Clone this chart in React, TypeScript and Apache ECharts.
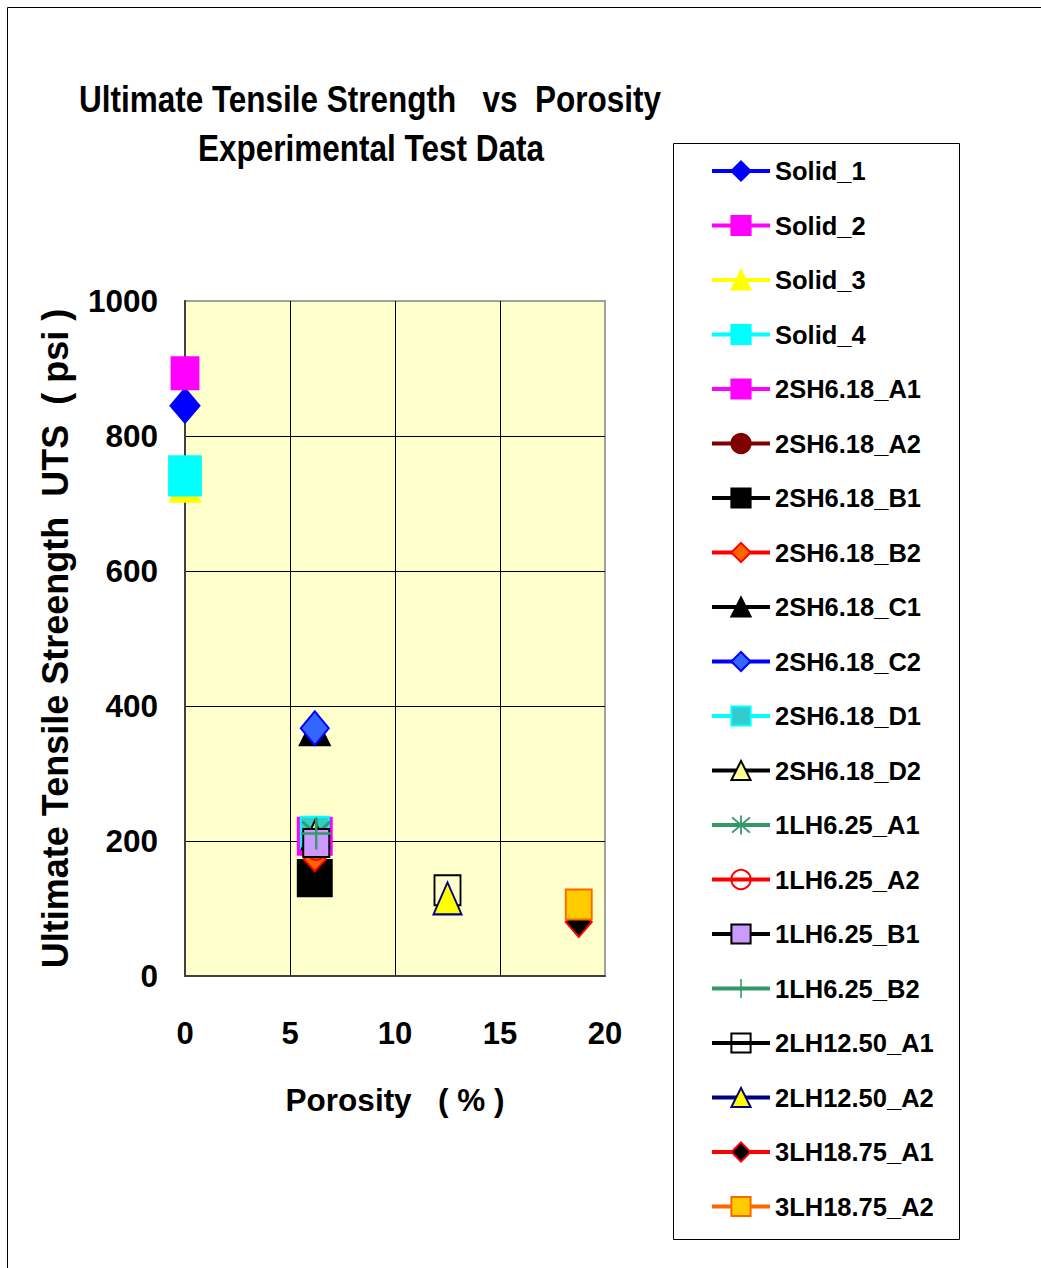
import React, { useEffect, useRef } from "react";
import * as echarts from "echarts";

const seriesNames = [
  "Solid_1", "Solid_2", "Solid_3", "Solid_4",
  "2SH6.18_A1", "2SH6.18_A2", "2SH6.18_B1", "2SH6.18_B2",
  "2SH6.18_C1", "2SH6.18_C2", "2SH6.18_D1", "2SH6.18_D2",
  "1LH6.25_A1", "1LH6.25_A2", "1LH6.25_B1", "1LH6.25_B2",
  "2LH12.50_A1", "2LH12.50_A2", "3LH18.75_A1", "3LH18.75_A2",
];
const porosityPct = [
  0, 0, 0, 0,
  6.18, 6.18, 6.18, 6.18,
  6.18, 6.18, 6.18, 6.18,
  6.25, 6.25, 6.25, 6.25,
  12.5, 12.5, 18.75, 18.75,
];
const utsPsi = [
  845, 893, 728, 741,
  207, 185, 145, 173,
  364, 367, 212, 209,
  210, 190, 197, 211,
  127, 115, 80, 106,
];
const xTicks = [0, 5, 10, 15, 20];
const yTicks = [0, 200, 400, 600, 800, 1000];

const ASTERISK =
  "path://M9.2,0 L10.8,0 L10.8,20 L9.2,20 Z M1.4,2.6 L2.6,1.4 L18.6,17.4 L17.4,18.6 Z M17.4,1.4 L18.6,2.6 L2.6,18.6 L1.4,17.4 Z";
const PLUS = "path://M9.2,0 L10.8,0 L10.8,20 L9.2,20 Z M0,9.2 L20,9.2 L20,10.8 L0,10.8 Z";

// marker styles: symbol, fill, border/line colour, plot size
const markerStyles: { symbol: string; fill: string; stroke: string; size: number[] }[] = [
  { symbol: "diamond", fill: "#0000FF", stroke: "#0000FF", size: [29, 34] },
  { symbol: "rect", fill: "#FF00FF", stroke: "#FF00FF", size: [27, 32] },
  { symbol: "triangle", fill: "#FFFF00", stroke: "#FFFF00", size: [30, 34] },
  { symbol: "rect", fill: "#00FFFF", stroke: "#00FFFF", size: [32, 39] },
  { symbol: "rect", fill: "#FF00FF", stroke: "#FF00FF", size: [34, 37] },
  { symbol: "circle", fill: "#800000", stroke: "#800000", size: [24, 26] },
  { symbol: "rect", fill: "#000000", stroke: "#000000", size: [34, 36] },
  { symbol: "diamond", fill: "#FF6600", stroke: "#FF0000", size: [22, 24] },
  { symbol: "triangle", fill: "#000000", stroke: "#000000", size: [30, 30] },
  { symbol: "diamond", fill: "#3366FF", stroke: "#0000FF", size: [28, 34] },
  { symbol: "rect", fill: "#33CCCC", stroke: "#00FFFF", size: [28, 32] },
  { symbol: "triangle", fill: "#FFFF99", stroke: "#000000", size: [26, 28] },
  { symbol: ASTERISK, fill: "#339966", stroke: "#339966", size: [30, 32] },
  { symbol: "circle", fill: "transparent", stroke: "#FF0000", size: [22, 24] },
  { symbol: "rect", fill: "#CC99FF", stroke: "#000000", size: [26, 28] },
  { symbol: PLUS, fill: "#339966", stroke: "#339966", size: [30, 32] },
  { symbol: "rect", fill: "transparent", stroke: "#000000", size: [26, 30] },
  { symbol: "triangle", fill: "#FFFF00", stroke: "#000080", size: [28, 32] },
  { symbol: "diamond", fill: "#000000", stroke: "#FF0000", size: [26, 30] },
  { symbol: "rect", fill: "#FFCC00", stroke: "#FF6600", size: [26, 30] },
];

const FONT = "'Liberation Sans', Arial, sans-serif";

export default function App() {
  const ref = useRef<HTMLDivElement>(null);
  useEffect(() => {
    document.body.style.margin = "0";
    const chart = echarts.init(ref.current!, null, { renderer: "svg" });
    const series = seriesNames.map((name, i) => {
      const m = markerStyles[i];
      const isPath = m.symbol.startsWith("path://");
      return {
        name,
        type: "line",
        data: [[porosityPct[i], utsPsi[i]]],
        symbol: m.symbol,
        symbolSize: m.size,
        showSymbol: true,
        lineStyle: { color: m.stroke, width: 4 },
        itemStyle: {
          color: m.fill,
          borderColor: m.stroke,
          borderWidth: isPath ? 0 : 2,
        },
        emphasis: { disabled: true },
      };
    });
    chart.setOption({
      animation: false,
      backgroundColor: "#FFFFFF",
      graphic: [
        {
          type: "rect",
          shape: { x: 7.5, y: 7.5, width: 1200, height: 1400 },
          style: { fill: "none", stroke: "#000000", lineWidth: 1 },
          silent: true,
        },
        {
          type: "rect",
          shape: { x: 673.5, y: 143.5, width: 286, height: 1096 },
          style: { fill: "#FFFFFF", stroke: "#000000", lineWidth: 1 },
          z: -1,
          silent: true,
        },
        {
          type: "text",
          x: 370,
          y: 99,
          scaleY: 1.2,
          style: {
            text: "Ultimate Tensile Strength   vs  Porosity",
            font: `bold 31.5px ${FONT}`,
            fill: "#000000",
            align: "center",
            verticalAlign: "middle",
          },
        },
        {
          type: "text",
          x: 371,
          y: 148,
          scaleY: 1.2,
          style: {
            text: "Experimental Test Data",
            font: `bold 31.5px ${FONT}`,
            fill: "#000000",
            align: "center",
            verticalAlign: "middle",
          },
        },
      ],
      grid: {
        left: 185,
        right: 436,
        top: 301,
        bottom: 292,
        show: true,
        backgroundColor: "#FFFFCC",
        borderColor: "#A0A0A0",
        borderWidth: 2,
      },
      legend: {
        orient: "vertical",
        left: 673,
        top: 143,
        padding: [11, 10, 10, 37],
        itemWidth: 58,
        itemHeight: 24,
        itemGap: 20.5,
        selectedMode: false,
        lineStyle: { width: 4 },
        textStyle: {
          fontFamily: FONT,
          fontWeight: "bold",
          fontSize: 25.5,
          lineHeight: 34,
          color: "#000000",
        },
        data: seriesNames,
      },
      xAxis: {
        type: "value",
        min: xTicks[0],
        max: xTicks[xTicks.length - 1],
        interval: 5,
        name: "Porosity   ( % )",
        nameLocation: "middle",
        nameGap: 108,
        nameTextStyle: { fontFamily: FONT, fontWeight: "bold", fontSize: 31.5, color: "#000000" },
        axisLine: { show: true, lineStyle: { color: "#404040", width: 2 } },
        axisTick: { show: false },
        axisLabel: {
          fontFamily: FONT,
          fontWeight: "bold",
          fontSize: 31,
          color: "#000000",
          margin: 42,
          formatter: (v: number) => String(v),
        },
        splitLine: { show: true, showMinLine: false, showMaxLine: false, lineStyle: { color: "#000000", width: 1 } },
      },
      yAxis: {
        type: "value",
        min: yTicks[0],
        max: yTicks[yTicks.length - 1],
        interval: 200,
        name: "Ultimate Tensile Streength  UTS  ( psi )",
        nameLocation: "middle",
        nameRotate: 90,
        nameGap: 112,
        nameTextStyle: { fontFamily: FONT, fontWeight: "bold", fontSize: 36, color: "#000000" },
        axisLine: { show: true, lineStyle: { color: "#404040", width: 2 } },
        axisTick: { show: false },
        axisLabel: {
          fontFamily: FONT,
          fontWeight: "bold",
          fontSize: 31.5,
          color: "#000000",
          margin: 27,
          formatter: (v: number) => String(v),
        },
        splitLine: { show: true, showMinLine: false, showMaxLine: false, lineStyle: { color: "#000000", width: 1 } },
      },
      series,
    });
    return () => chart.dispose();
  }, []);
  return <div ref={ref} style={{ width: 1041, height: 1268 }} />;
}
